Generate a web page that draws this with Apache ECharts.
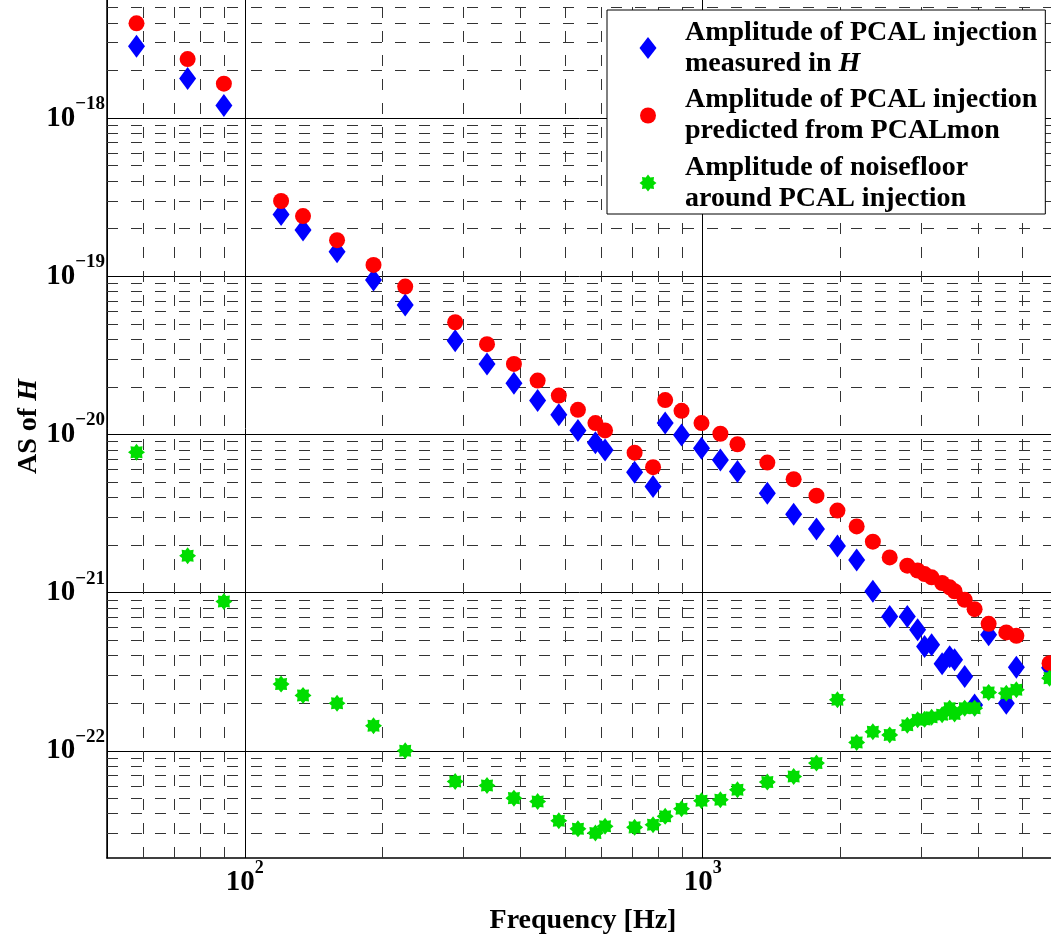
<!DOCTYPE html>
<html>
<head>
<meta charset="utf-8">
<title>PCAL injection amplitude</title>
<script src="https://cdn.jsdelivr.net/npm/echarts@6/dist/echarts.min.js"></script>
<style>
  html, body { margin: 0; padding: 0; background: #fff; }
  #chart { width: 1051px; height: 939px; }
</style>
</head>
<body>
<div id="chart"></div>
<script>
// PCAL line frequencies [Hz]
var freqs = [58, 75, 90, 120, 134, 159, 191, 224, 288, 338, 387, 436, 485, 534, 583, 612,
  710, 779, 828, 899, 994, 1093, 1191, 1384, 1580, 1772, 1969, 2169, 2353, 2561, 2798,
  2947, 3052, 3162, 3333, 3462, 3549, 3734, 3925, 4212, 4603, 4842, 5722];

// amplitude measured in H
var measuredH = [2.85e-18, 1.78e-18, 1.20e-18, 2.46e-19, 1.96e-19, 1.43e-19, 9.47e-20, 6.58e-20,
  3.91e-20, 2.79e-20, 2.11e-20, 1.64e-20, 1.33e-20, 1.06e-20, 8.87e-21, 7.98e-21,
  5.77e-21, 4.68e-21, 1.18e-20, 9.93e-21, 8.18e-21, 6.90e-21, 5.82e-21, 4.25e-21,
  3.13e-21, 2.52e-21, 1.97e-21, 1.61e-21, 1.02e-21, 7.06e-22, 7.06e-22, 5.82e-22,
  4.56e-22, 4.68e-22, 3.55e-22, 3.93e-22, 3.76e-22, 2.95e-22, 1.95e-22, 5.41e-22,
  2.00e-22, 3.38e-22, 3.35e-22];

// amplitude predicted from PCALmon
var predicted = [3.97e-18, 2.36e-18, 1.65e-18, 2.99e-19, 2.40e-19, 1.69e-19, 1.18e-19, 8.60e-20,
  5.12e-20, 3.72e-20, 2.79e-20, 2.19e-20, 1.76e-20, 1.43e-20, 1.18e-20, 1.06e-20,
  7.67e-21, 6.21e-21, 1.65e-20, 1.41e-20, 1.18e-20, 1.01e-20, 8.67e-21, 6.64e-21,
  5.21e-21, 4.10e-21, 3.30e-21, 2.62e-21, 2.10e-21, 1.67e-21, 1.48e-21, 1.38e-21,
  1.31e-21, 1.25e-21, 1.15e-21, 1.08e-21, 1.02e-21, 9.00e-22, 7.86e-22, 6.35e-22,
  5.60e-22, 5.33e-22, 3.58e-22];

// noise floor around the injection
var noiseFloor = [7.72e-21, 1.71e-21, 8.78e-22, 2.64e-22, 2.24e-22, 2.00e-22, 1.44e-22, 1.00e-22,
  6.40e-23, 6.04e-23, 5.02e-23, 4.78e-23, 3.61e-23, 3.21e-23, 3.02e-23, 3.33e-23,
  3.28e-23, 3.41e-23, 3.85e-23, 4.30e-23, 4.83e-23, 4.90e-23, 5.67e-23, 6.34e-23,
  6.88e-23, 8.36e-23, 2.10e-22, 1.13e-22, 1.32e-22, 1.26e-22, 1.45e-22, 1.57e-22,
  1.58e-22, 1.63e-22, 1.69e-22, 1.86e-22, 1.71e-22, 1.86e-22, 1.86e-22, 2.34e-22,
  2.31e-22, 2.43e-22, 2.88e-22];

var xTickValues = [1e2, 1e3];
var yTickValues = [1e-22, 1e-21, 1e-20, 1e-19, 1e-18];

var FONT = "'Liberation Serif', 'Times New Roman', serif";

function pairs(ys) {
  return freqs.map(function (f, i) { return [f, ys[i]]; });
}

// 8-armed "asterisk" marker, optional invisible padding points to size the legend icon
function starPath(ro, ri, pad) {
  var d = pad ? 'M' + (-pad) + ',' + (-pad) + 'M' + pad + ',' + pad : '';
  for (var i = 0; i < 16; i++) {
    var a = i * Math.PI / 8 - Math.PI / 2;
    var r = i % 2 ? ri : ro;
    d += (i ? 'L' : 'M') + (r * Math.cos(a)).toFixed(2) + ',' + (r * Math.sin(a)).toFixed(2);
  }
  return 'path://' + d + 'Z';
}

// minor grid (2..9 x decade)
function minorValues(lo, hi, d0, d1) {
  var out = [];
  for (var e = d0; e <= d1; e++) {
    for (var k = 2; k <= 9; k++) {
      var v = k * Math.pow(10, e);
      if (v > lo * 1.001 && v < hi * 0.999) out.push(v);
    }
  }
  return out;
}

var xMin = 50, xMax = 6000, yMin = 2.1e-23, yMax = 6e-18;
// full-span lines given as coord pairs (a plain {yAxis: v} gets rounded by markLine precision)
var minorLines = minorValues(xMin, xMax, 1, 3).map(function (v) {
  return [{ coord: [v, -Infinity] }, { coord: [v, Infinity] }];
}).concat(minorValues(yMin, yMax, -23, -18).map(function (v) {
  return [{ coord: [-Infinity, v] }, { coord: [Infinity, v] }];
}));

function isTick(v, list) {
  for (var i = 0; i < list.length; i++) {
    if (Math.abs(v - list[i]) / list[i] < 1e-6) return true;
  }
  return false;
}
function powLabel(list) {
  return function (v) {
    if (!isTick(v, list)) return '';
    var e = Math.round(Math.log10(v));
    return '{b|10}{s|' + (e < 0 ? '\u2212' + (-e) : e) + '}';
  };
}

var names = [
  'Amplitude of PCAL injection measured in H',
  'Amplitude of PCAL injection predicted from PCALmon',
  'Amplitude of noisefloor around PCAL injection'
];
var legendText = {};
legendText[names[0]] = 'Amplitude of PCAL injection\nmeasured in {it|H}';
legendText[names[1]] = 'Amplitude of PCAL injection\npredicted from PCALmon';
legendText[names[2]] = 'Amplitude of noisefloor\naround PCAL injection';

var chart = echarts.init(document.getElementById('chart'));
var option = {
  animation: false,
  backgroundColor: '#fff',
  grid: {
    left: 107,
    right: -8,
    top: -5,
    bottom: 81,
    outerBoundsMode: 'none'
  },
  legend: {
    z: 20,
    orient: 'vertical',
    left: 607,
    top: 10,
    padding: [7, 8, 0, 30],
    itemGap: 5.5,
    itemWidth: 64,
    itemHeight: 22,
    symbolKeepAspect: true,
    selectedMode: false,
    backgroundColor: '#fff',
    borderColor: '#000',
    borderWidth: 1,
    borderRadius: 0,
    data: [
      { name: names[0], icon: 'path://M0,-11L8.5,0L0,11L-8.5,0Z' },
      { name: names[1], icon: 'path://M-11,-11M11,11M-8,0A8,8,0,1,0,8,0A8,8,0,1,0,-8,0Z' },
      { name: names[2], icon: starPath(8.5, 6, 11) }
    ],
    formatter: function (name) { return legendText[name]; },
    textStyle: {
      fontFamily: FONT,
      fontWeight: 'bold',
      fontSize: 28,
      lineHeight: 31,
      color: '#000',
      rich: {
        it: { fontFamily: FONT, fontWeight: 'bold', fontStyle: 'italic', fontSize: 28, lineHeight: 31, color: '#000' }
      }
    }
  },
  xAxis: {
    type: 'log',
    logBase: 10,
    min: xMin,
    max: xMax,
    name: 'Frequency [Hz]',
    nameLocation: 'middle',
    nameGap: 49,
    nameMoveOverlap: false,
    nameTextStyle: { fontFamily: FONT, fontWeight: 'bold', fontSize: 28, color: '#000' },
    axisLine: { show: true, onZero: false, lineStyle: { color: '#000', width: 1.5 } },
    axisTick: { show: false },
    axisLabel: {
      margin: 1,
      formatter: powLabel(xTickValues),
      rich: {
        b: { fontFamily: FONT, fontWeight: 'bold', fontSize: 29, color: '#000' },
        s: { fontFamily: FONT, fontWeight: 'bold', fontSize: 18, color: '#000', padding: [0, 0, 30, 0] }
      }
    },
    splitLine: { show: true, lineStyle: { color: '#000', width: 1, type: 'solid' } }
  },
  yAxis: {
    type: 'log',
    logBase: 10,
    min: yMin,
    max: yMax,
    name: 'AS of {it|H}',
    nameLocation: 'middle',
    nameGap: 64,
    nameRotate: 90,
    nameMoveOverlap: false,
    nameTextStyle: {
      fontFamily: FONT, fontWeight: 'bold', fontSize: 28, color: '#000',
      rich: { it: { fontFamily: FONT, fontWeight: 'bold', fontStyle: 'italic', fontSize: 28, color: '#000' } }
    },
    axisLine: { show: true, onZero: false, lineStyle: { color: '#000', width: 1.5 } },
    axisTick: { show: false },
    axisLabel: {
      margin: 2,
      formatter: powLabel(yTickValues),
      rich: {
        b: { fontFamily: FONT, fontWeight: 'bold', fontSize: 29, color: '#000' },
        s: { fontFamily: FONT, fontWeight: 'bold', fontSize: 19, color: '#000', padding: [0, 0, 28, 0] }
      }
    },
    splitLine: { show: true, lineStyle: { color: '#000', width: 1, type: 'solid' } }
  },
  series: [
    {
      name: 'minor grid',
      type: 'scatter',
      data: [],
      z: 1,
      markLine: {
        z: 1,
        silent: true,
        symbol: ['none', 'none'],
        label: { show: false },
        lineStyle: { color: '#333', width: 1, type: [11, 13] },
        emphasis: { disabled: true },
        data: minorLines
      }
    },
    {
      name: names[0],
      type: 'scatter',
      z: 3,
      symbol: 'diamond',
      symbolSize: [17, 23],
      itemStyle: { color: '#0000ff', opacity: 1 },
      data: pairs(measuredH)
    },
    {
      name: names[1],
      type: 'scatter',
      z: 3,
      symbol: 'circle',
      symbolSize: 16,
      itemStyle: { color: '#ff0000', opacity: 1 },
      data: pairs(predicted)
    },
    {
      name: names[2],
      type: 'scatter',
      z: 3,
      symbol: starPath(8.5, 6, 0),
      symbolSize: 17,
      itemStyle: { color: '#00dd00', opacity: 1 },
      data: pairs(noiseFloor)
    }
  ]
};
chart.setOption(option);
</script>
</body>
</html>
